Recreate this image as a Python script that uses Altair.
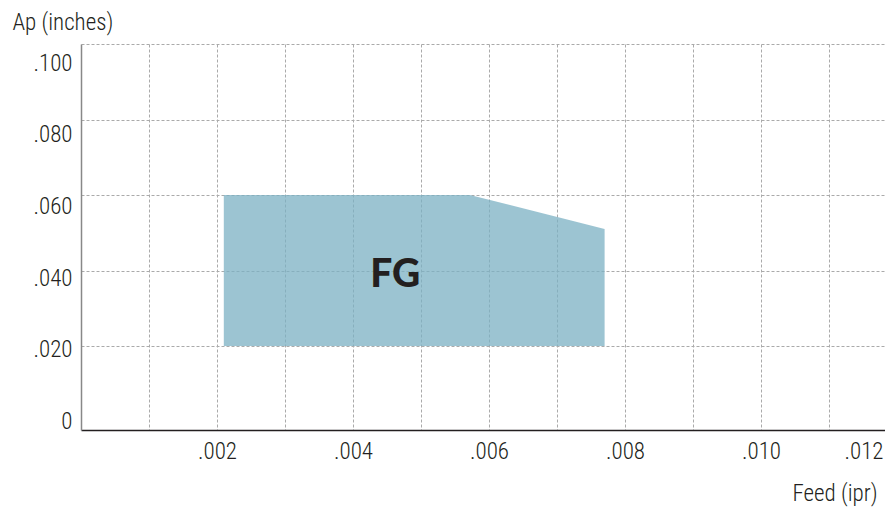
import altair as alt
import pandas as pd

# Polygon boundary (FG region)
feed = [0.0021, 0.00572, 0.0077]
ap_top = [0.060, 0.060, 0.051]
ap_bottom = [0.020, 0.020, 0.020]

label_name = ["FG"]
label_x = [0.00462]
label_y = [0.0388]

x_ticks = [0.001, 0.002, 0.003, 0.004, 0.005, 0.006, 0.007, 0.008, 0.009, 0.010, 0.011, 0.012]
y_ticks = [0.0, 0.02, 0.04, 0.06, 0.08, 0.10]

area_df = pd.DataFrame({"feed": feed, "top": ap_top, "bottom": ap_bottom})
text_df = pd.DataFrame({"name": label_name, "x": label_x, "y": label_y})

FONT = "Roboto Condensed, Roboto, sans-serif"
TXT = "#231f20"

xscale = alt.Scale(domain=[0, 0.012], range=[0, 816], nice=False, zero=False)
yscale = alt.Scale(domain=[-0.00225, 0.1], nice=False, zero=False)

xaxis = alt.Axis(
    values=x_ticks,
    labelExpr="(round(datum.value*1000) % 2 == 0) ? replace(format(datum.value, '.3f'), '0.', '.') : ''",
    grid=True, gridDash=[3, 2], gridColor="#aaaaaa", gridWidth=1,
    ticks=False, domainColor=TXT, domainWidth=1.5,
    labelFont=FONT, labelFontSize=23, labelFontWeight=300, labelColor=TXT, labelPadding=10,
    labelFlush=True, labelFlushOffset=-14,
    title="Feed (ipr)", titleFont=FONT, titleFontSize=23, titleFontWeight=300,
    titleColor=TXT, titleAnchor="end", titleAlign="right", titleBaseline="alphabetic",
    titleX=796, titleY=70,
)
yaxis = alt.Axis(
    values=y_ticks,
    labelExpr="datum.value == 0 ? '0' : replace(format(datum.value, '.3f'), '0.', '.')",
    labelOffset=alt.ExprRef("datum.value * 190"),
    grid=True, gridDash=[3, 2], gridColor="#aaaaaa", gridWidth=1,
    gridOpacity={"condition": {"test": "datum.value === 0", "value": 0}, "value": 1},
    ticks=False, domainColor="#888888", domainWidth=1.5,
    labelFont=FONT, labelFontSize=23, labelFontWeight=300, labelColor=TXT, labelPadding=9,
    title="Ap (inches)", titleFont=FONT, titleFontSize=23, titleFontWeight=300,
    titleColor=TXT, titleAngle=0, titleAlign="left", titleBaseline="alphabetic",
    titleX=-69, titleY=-15,
)

area = alt.Chart(area_df).mark_area(color="#7bb0c3", opacity=0.75).encode(
    x=alt.X("feed:Q", scale=xscale, axis=xaxis),
    y=alt.Y("top:Q", scale=yscale, axis=yaxis),
    y2="bottom:Q",
)

text = alt.Chart(text_df).mark_text(
    font="Lato", fontSize=39, fontWeight=900, color=TXT, align="center", baseline="middle"
).encode(
    x=alt.X("x:Q", scale=xscale),
    y=alt.Y("y:Q", scale=yscale),
    text="name:N",
)

chart = alt.layer(area, text).properties(
    width=804, height=386,
    autosize=alt.AutoSizeParams(type="none"),
    padding={"left": 73, "top": 36, "right": 0, "bottom": 78},
).configure_view(stroke=None)

chart.save("out.html", embed_options={"renderer": "svg", "actions": False})
